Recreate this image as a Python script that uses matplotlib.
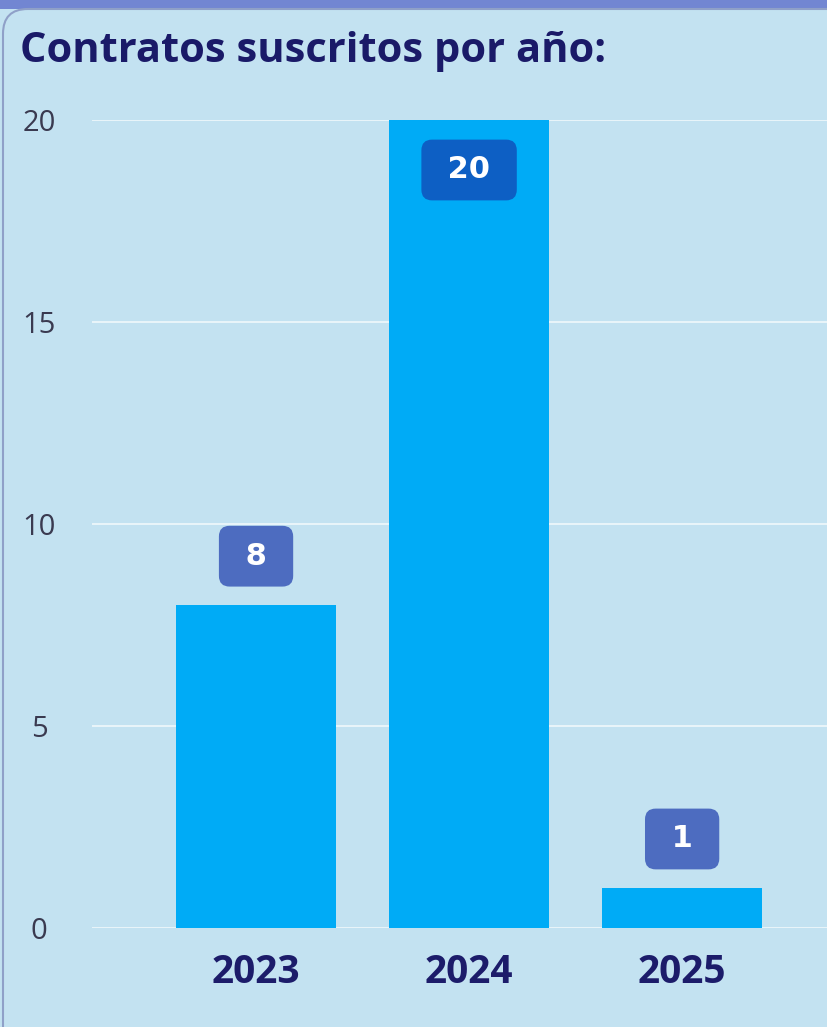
import matplotlib
matplotlib.use("Agg")
import matplotlib.pyplot as plt
from matplotlib.patches import FancyBboxPatch, Rectangle

years = ["2023", "2024", "2025"]
contracts = [8, 20, 1]
yticks = [0, 5, 10, 15, 20]
title = "Contratos suscritos por año:"

W, H = 827, 1027
fig = plt.figure(figsize=(W / 100, H / 100), dpi=100)
bg = "#c3e2f1"
fig.patch.set_facecolor(bg)

# top band and card frame
fig.patches.append(Rectangle((0, 1 - 9 / H), 1, 9 / H, transform=fig.transFigure,
                             facecolor="#7286d2", edgecolor="none", zorder=-2))
fig.patches.append(FancyBboxPatch((3 / W, -30 / H), 1.1, (H - 9 + 30) / H,
                                  boxstyle="round,pad=0,rounding_size=0.03",
                                  transform=fig.transFigure, facecolor=bg,
                                  edgecolor="#8fa0c8", linewidth=1.5, zorder=-1,
                                  mutation_aspect=W / H))

ax = fig.add_axes([92 / W, (H - 928) / H, (W - 92) / W, (928 - 120) / H])
ax.set_zorder(1)
ax.set_facecolor("none")
x = list(range(len(years)))
ax.bar(x, contracts, width=0.75, color="#00abf6", zorder=2)
ax.set_xlim(-0.77, 2.68)
ax.set_ylim(0, 20)
ax.set_yticks(yticks)
ax.set_yticklabels([str(t) for t in yticks], fontsize=21, color="#3a3a50",
                   family="Open Sans", ha="center")
ax.tick_params(axis="y", length=0, pad=38)
ax.set_xticks(x)
ax.set_xticklabels(years, fontsize=28, fontweight="bold", color="#1c1c6a",
                   family="Open Sans")
ax.tick_params(axis="x", length=0, pad=18)
ax.grid(axis="y", color="white", alpha=0.75, linewidth=1.2, zorder=1)
for s in ax.spines.values():
    s.set_visible(False)

for i, v in enumerate(contracts):
    if v >= 15:
        off, fc = -36, "#0d5fc4"
    else:
        off, fc = 35, "#4d6cc0"
    ax.annotate(" " + str(v) + " ", xy=(i, v), xytext=(0, off),
                textcoords="offset points", ha="center", va="center",
                fontsize=22, fontweight="bold", color="white",
                family="DejaVu Sans", zorder=4,
                bbox=dict(boxstyle="round,pad=0.52,rounding_size=0.35",
                          facecolor=fc, edgecolor="none"))

fig.text(20 / W, 1 - 52 / H, title, fontsize=30, fontweight="bold",
         color="#1a1a68", family="Open Sans", ha="left", va="center")

fig.savefig("out.png", dpi=100, facecolor=fig.get_facecolor())
